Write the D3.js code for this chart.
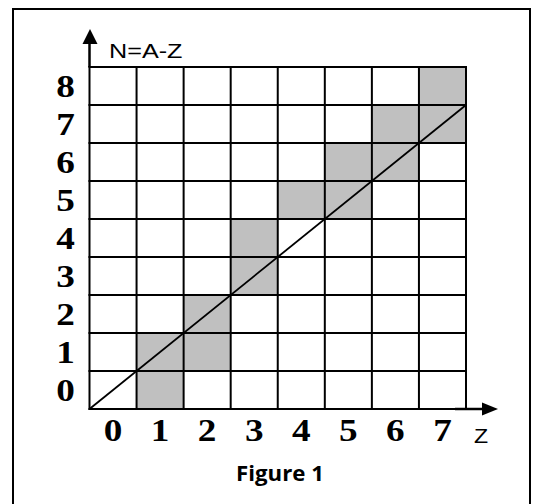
<!DOCTYPE html>
<html>
<head>
<meta charset="utf-8">
<script src="https://cdn.jsdelivr.net/npm/d3@7"></script>
<style>
  html, body { margin: 0; padding: 0; background: #fff; }
  svg { display: block; }
</style>
</head>
<body>
<div id="chart"></div>
<script>
// data
var zTicks = [0, 1, 2, 3, 4, 5, 6, 7];
var nTicks = [0, 1, 2, 3, 4, 5, 6, 7, 8];
// shaded cells (column Z, row N)
var shadedZ = [1, 1, 2, 2, 3, 3, 4, 5, 5, 6, 6, 7, 7];
var shadedN = [0, 1, 1, 2, 3, 4, 5, 5, 6, 6, 7, 7, 8];
// the diagonal N = Z
var lineZ = [0, 8];
var lineN = [0, 8];
var xTitle = "Z";
var yTitle = "N=A-Z";
var caption = "Figure 1";

var width = 537, height = 504;

var svg = d3.select("#chart").append("svg")
  .attr("width", width)
  .attr("height", height);

// outer frame (bottom edge falls outside the picture)
svg.append("rect")
  .attr("x", 13).attr("y", 9)
  .attr("width", 517).attr("height", 520)
  .attr("fill", "none")
  .attr("stroke", "#000")
  .attr("stroke-width", 2);

var x = d3.scaleLinear().domain([0, zTicks.length]).range([89.5, 466]);
var y = d3.scaleLinear().domain([0, nTicks.length]).range([409, 67]);

var g = svg.append("g");

// shaded cells
g.selectAll(".cell")
  .data(d3.range(shadedZ.length))
  .enter().append("rect")
    .attr("class", "cell")
    .attr("x", function(i) { return x(shadedZ[i]); })
    .attr("y", function(i) { return y(shadedN[i] + 1); })
    .attr("width", function(i) { return x(shadedZ[i] + 1) - x(shadedZ[i]); })
    .attr("height", function(i) { return y(shadedN[i]) - y(shadedN[i] + 1); })
    .attr("fill", "#c0c0c0");

// grid
g.selectAll(".vline")
  .data(d3.range(zTicks.length + 1))
  .enter().append("line")
    .attr("x1", function(d) { return x(d); })
    .attr("x2", function(d) { return x(d); })
    .attr("y1", y(0) + 1)
    .attr("y2", y(nTicks.length) - 1)
    .attr("stroke", "#000")
    .attr("stroke-width", 2);

g.selectAll(".hline")
  .data(d3.range(nTicks.length + 1))
  .enter().append("line")
    .attr("x1", x(0) - 1)
    .attr("x2", x(zTicks.length) + 1)
    .attr("y1", function(d) { return y(d); })
    .attr("y2", function(d) { return y(d); })
    .attr("stroke", "#000")
    .attr("stroke-width", 2);

// diagonal
g.append("path")
  .datum(d3.range(lineZ.length))
  .attr("d", d3.line()
    .x(function(i) { return x(lineZ[i]); })
    .y(function(i) { return y(lineN[i]); }))
  .attr("stroke", "#000")
  .attr("stroke-width", 1.8)
  .attr("fill", "none");

// axis arrows
var yAxisX = x(0);
g.append("line")
  .attr("x1", yAxisX).attr("x2", yAxisX)
  .attr("y1", y(nTicks.length)).attr("y2", 42)
  .attr("stroke", "#000").attr("stroke-width", 2.5);
g.append("path")
  .attr("d", "M" + (yAxisX + 0.5) + ",29 L" + (yAxisX + 8) + ",44 L" + (yAxisX - 7) + ",44 Z")
  .attr("fill", "#000");

var zAxisY = y(0);
g.append("line")
  .attr("x1", 455).attr("x2", 484)
  .attr("y1", zAxisY).attr("y2", zAxisY)
  .attr("stroke", "#000").attr("stroke-width", 2.5);
g.append("path")
  .attr("d", "M498," + zAxisY + " L482," + (zAxisY - 6.5) + " L482," + (zAxisY + 6.5) + " Z")
  .attr("fill", "#000");

// picture is stretched sideways, so text gets a horizontal scale
function placeText(txt, px, py, sx) {
  return g.append("text")
    .attr("transform", "translate(" + px + "," + py + ") scale(" + sx + ",1)")
    .text(txt);
}

var serif = "'Liberation Serif', 'Times New Roman', serif";
var sans = "'Liberation Sans', Arial, sans-serif";

zTicks.forEach(function(d, i) {
  placeText(d, (x(i) + x(i + 1)) / 2, 440.5, 1.2)
    .attr("text-anchor", "middle")
    .style("font-family", serif)
    .style("font-weight", "bold")
    .style("font-size", "31px");
});

nTicks.forEach(function(d, i) {
  placeText(d, 65.5, (y(i) + y(i + 1)) / 2 + 11, 1.2)
    .attr("text-anchor", "middle")
    .style("font-family", serif)
    .style("font-weight", "bold")
    .style("font-size", "31px");
});

placeText(yTitle, 109, 58, 1.2)
  .style("font-family", sans)
  .style("font-size", "21px");

placeText(xTitle, 481, 442.5, 1.1)
  .attr("text-anchor", "middle")
  .style("font-family", sans)
  .style("font-size", "21px");

placeText(caption, 280, 481, 1.06)
  .attr("text-anchor", "middle")
  .style("font-family", "'Open Sans', sans-serif")
  .style("font-weight", "bold")
  .style("font-size", "21px");
</script>
</body>
</html>
